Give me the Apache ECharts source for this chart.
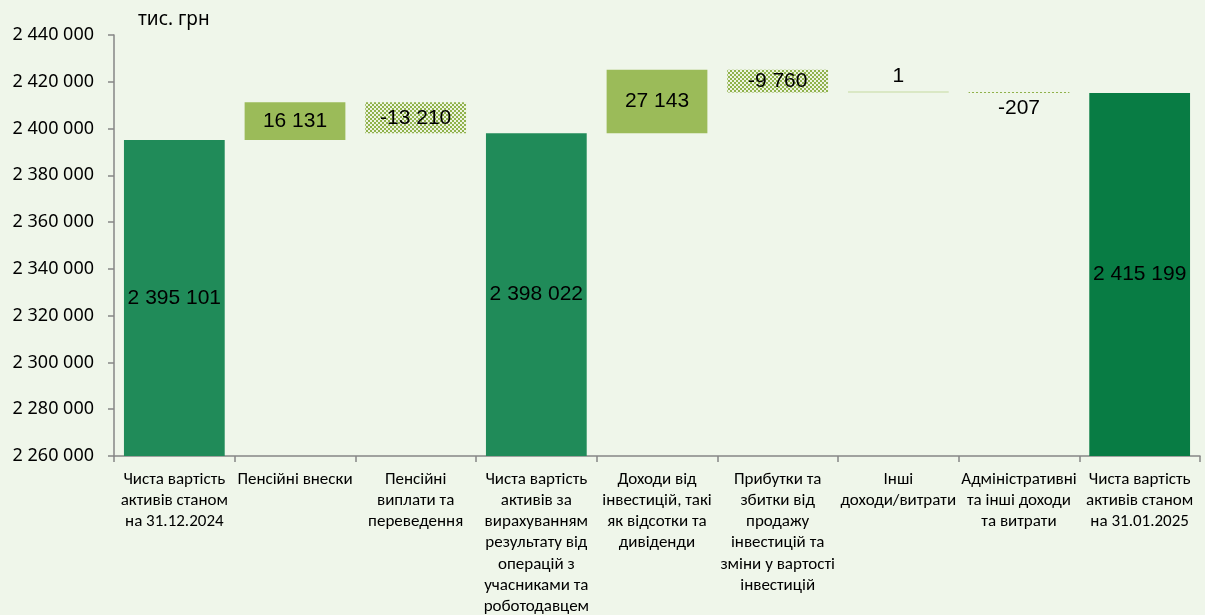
<!DOCTYPE html>
<html>
<head>
<meta charset="utf-8">
<title>Waterfall</title>
<script src="https://cdn.jsdelivr.net/npm/echarts@6/dist/echarts.min.js"></script>
<style>
  html, body { margin: 0; padding: 0; background: #eff6ea; }
  #chart { width: 1205px; height: 615px; }
</style>
</head>
<body>
<div id="chart"></div>
<script>
// categories (line breaks as in the original)
var categories = [
    'Чиста вартість\nактивів станом\nна 31.12.2024',
    'Пенсійні внески',
    'Пенсійні\nвиплати та\nпереведення',
    'Чиста вартість\nактивів за\nвирахуванням\nрезультату від\nоперацій з\nучасниками та\nроботодавцем',
    'Доходи від\nінвестицій, такі\nяк відсотки та\nдивіденди',
    'Прибутки та\nзбитки від\nпродажу\nінвестицій та\nзміни у вартості\nінвестицій',
    'Інші\nдоходи/витрати',
    'Адміністративні\nта інші доходи\nта витрати',
    'Чиста вартість\nактивів станом\nна 31.01.2025'
];
// totals (null where the bar is a change)
var totals = [2395101, null, null, 2398022, null, null, null, null, 2415199];
// changes (null where the bar is a total)
var changes = [null, 16131, -13210, null, 27143, -9760, 1, -207, null];

var yMin = 2260000;
var yMax = 2440000;
var yStep = 20000;

var narrow = 'Carlito, "Liberation Sans Narrow", "Liberation Sans", sans-serif';
var humanist = '"Noto Sans", "Open Sans", sans-serif';
var arial = '"Liberation Sans", Arial, sans-serif';

function fmt(v) {
    var s = String(Math.abs(v)).replace(/\B(?=(\d{3})+(?!\d))/g, ' ');
    return (v < 0 ? '-' : '') + s;
}

// checkered fill for negative changes
function makePattern() {
    var c = document.createElement('canvas');
    c.width = 4; c.height = 4;
    var ctx = c.getContext('2d');
    ctx.fillStyle = '#eef4e2';
    ctx.fillRect(0, 0, 4, 4);
    ctx.fillStyle = '#8fb24c';
    ctx.fillRect(0, 0, 2, 2);
    ctx.fillRect(2, 2, 2, 2);
    return {image: c, repeat: 'repeat'};
}
var pattern = makePattern();

var baseData = [];
var barData = [];
var level = 0;
for (var i = 0; i < categories.length; i++) {
    if (totals[i] !== null) {
        level = totals[i];
        baseData.push(0);
        barData.push({
            value: totals[i],
            itemStyle: {color: i === categories.length - 1 ? '#087c44' : '#208b59'},
            label: {position: 'inside', formatter: fmt(totals[i])}
        });
    } else {
        var d = changes[i];
        var end = level + d;
        baseData.push(Math.min(level, end));
        var lbl = {position: 'inside', formatter: fmt(d)};
        if (Math.abs(d) < 1000) {
            lbl = {position: d < 0 ? 'bottom' : 'top', distance: 5, formatter: fmt(d)};
        }
        barData.push({
            value: Math.abs(d),
            itemStyle: {color: d < 0 ? pattern : (Math.abs(d) < 1000 ? '#c6d9a0' : '#9bbb59')},
            label: lbl
        });
        level = end;
    }
}

var chart = echarts.init(document.getElementById('chart'));
chart.setOption({
    backgroundColor: '#eff6ea',
    animation: false,
    title: {
        text: 'тис. грн',
        left: 133,
        top: 5,
        textStyle: {
            fontFamily: humanist,
            fontSize: 19,
            fontWeight: 'normal',
            color: '#000'
        }
    },
    grid: {
        left: 114,
        right: 5,
        top: 35,
        bottom: 159,
        outerBoundsMode: 'none'
    },
    xAxis: {
        type: 'category',
        data: categories,
        axisLine: {lineStyle: {color: '#868686', width: 1.5}},
        axisTick: {show: true, length: 6, lineStyle: {color: '#868686', width: 1.5}},
        axisLabel: {
            interval: 0,
            margin: 13,
            color: '#000',
            fontSize: 17,
            lineHeight: 21.2,
            fontFamily: narrow
        }
    },
    yAxis: {
        type: 'value',
        min: yMin,
        max: yMax,
        interval: yStep,
        splitLine: {show: false},
        axisLine: {show: true, lineStyle: {color: '#868686', width: 1.5}},
        axisTick: {show: true, length: 6, lineStyle: {color: '#868686', width: 1.5}},
        axisLabel: {
            margin: 20,
            color: '#000',
            fontSize: 18,
            fontFamily: humanist,
            formatter: function (v) { return fmt(v); }
        }
    },
    series: [
        {
            type: 'bar',
            stack: 'wf',
            data: baseData,
            itemStyle: {color: 'transparent'},
            silent: true,
            barWidth: '83.5%'
        },
        {
            type: 'bar',
            stack: 'wf',
            data: barData,
            barWidth: '83.5%',
            barMinHeight: 1,
            label: {
                show: true,
                color: '#000',
                fontSize: 21,
                fontFamily: arial
            }
        }
    ]
});
</script>
</body>
</html>
